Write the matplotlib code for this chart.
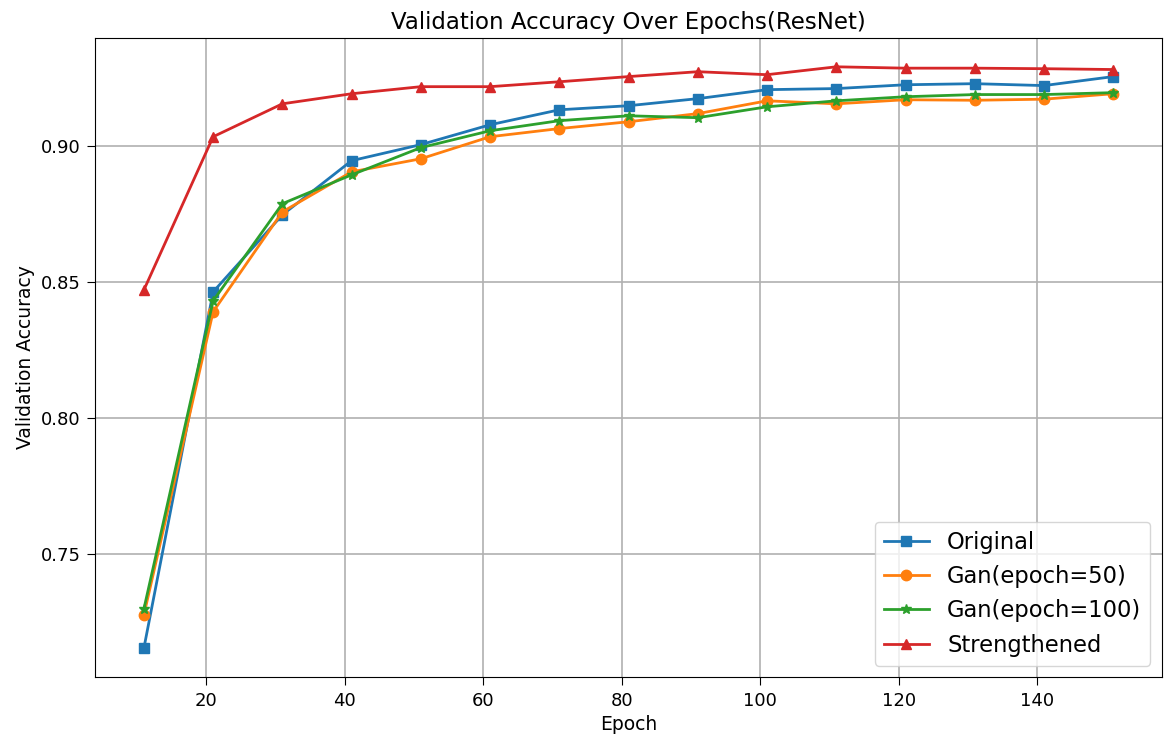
import numpy as np
import matplotlib
matplotlib.use('Agg')
import matplotlib.pyplot as plt

epochs = [11, 21, 31, 41, 51, 61, 71, 81, 91, 101, 111, 121, 131, 141, 151]

original = [0.7154, 0.8463, 0.8746, 0.8945, 0.9004, 0.9077, 0.9132, 0.9147,
            0.9173, 0.9206, 0.9210, 0.9224, 0.9228, 0.9221, 0.9254]
gan_50 = [0.7276, 0.8390, 0.8757, 0.8904, 0.8952, 0.9033, 0.9063, 0.9088,
          0.9118, 0.9165, 0.9154, 0.9169, 0.9167, 0.9171, 0.9191]
gan_100 = [0.7298, 0.8430, 0.8787, 0.8893, 0.8993, 0.9055, 0.9092, 0.9110,
           0.9103, 0.9143, 0.9165, 0.9180, 0.9188, 0.9188, 0.9195]
strengthened = [0.8470, 0.9033, 0.9154, 0.9191, 0.9217, 0.9217, 0.9235, 0.9254,
                0.9272, 0.9261, 0.9290, 0.9285, 0.9285, 0.9283, 0.9280]

series = [
    ('Original', original, 's'),
    ('Gan(epoch=50)', gan_50, 'o'),
    ('Gan(epoch=100)', gan_100, '*'),
    ('Strengthened', strengthened, '^'),
]

fig = plt.figure(figsize=(11.64, 7.4), dpi=100)
ax = fig.add_axes([0.082, 0.085, 0.916, 0.864])

for label, vals, marker in series:
    ax.plot(epochs, vals, marker=marker, markersize=7.5, linewidth=2, label=label)

ax.set_title('Validation Accuracy Over Epochs(ResNet)', fontsize=16.5)
ax.set_xlabel('Epoch', fontsize=13.5)
ax.set_ylabel('Validation Accuracy', fontsize=13.5)
ax.set_yticks([0.75, 0.80, 0.85, 0.90])
ax.tick_params(labelsize=13, length=5.5, pad=5)
ax.grid(True, linewidth=1.2)
ax.legend(loc='lower right', fontsize=16.3)

plt.savefig('out.png')
